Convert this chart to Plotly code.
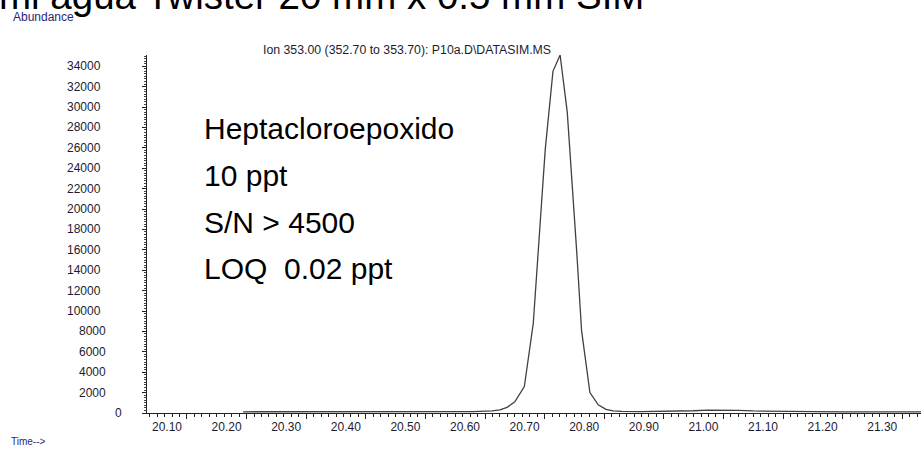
import plotly.graph_objects as go

# Extracted ion chromatogram, m/z 353 (SIM)
retention_time = [20.194, 20.25, 20.30, 20.35, 20.40, 20.45, 20.50, 20.55, 20.58, 20.60,
                  20.612, 20.625, 20.637, 20.650, 20.666, 20.681, 20.692, 20.701, 20.714,
                  20.726, 20.738, 20.746, 20.754, 20.762, 20.776, 20.790, 20.803, 20.815,
                  20.83, 20.86, 20.90, 20.95, 20.975, 21.0, 21.025, 21.05, 21.10, 21.15,
                  21.20, 21.25, 21.30, 21.332]
abundance = [120, 110, 130, 120, 115, 125, 120, 130, 140, 160,
             200, 300, 550, 1100, 2600, 8800, 18300, 25800, 33500,
             35100, 29500, 22800, 15700, 8100, 2000, 800, 350, 200,
             150, 130, 140, 220, 280, 300, 260, 200, 150, 130,
             120, 115, 110, 105]

x_ticks = [20.10, 20.20, 20.30, 20.40, 20.50, 20.60, 20.70, 20.80, 20.90,
           21.00, 21.10, 21.20, 21.30]
y_ticks = list(range(0, 34001, 2000))

header = "ml agua Twister 20 mm x 0.5 mm SIM"
ion_label = "Ion 353.00 (352.70 to 353.70): P10a.D\\DATASIM.MS"
peak_info = ["Heptacloroepoxido", "10 ppt", "S/N > 4500", "LOQ  0.02 ppt"]

FONT = "Arial, Liberation Sans, sans-serif"
INK = "#1c1c30"

fig = go.Figure()
fig.add_trace(go.Scatter(x=retention_time, y=abundance, mode="lines",
                         line=dict(color="#404040", width=1.3),
                         hoverinfo="x+y", showlegend=False))

annotations = []
# y tick labels (ChemStation-style placement)
for v in y_ticks:
    s = str(v)
    shift = {5: -44, 4: -39}.get(len(s), -23)
    annotations.append(dict(text=s, xref="paper", yref="y", x=0, y=v,
                            xanchor="right", yanchor="middle", xshift=shift,
                            showarrow=False, font=dict(family=FONT, size=12, color=INK)))

annotations += [
    dict(text=header, xref="paper", yref="paper", x=0, y=1, xanchor="left",
         yanchor="bottom", xshift=-150, yshift=36, showarrow=False,
         font=dict(family=FONT, size=38.5, color="#000000")),
    dict(text="Abundance", xref="paper", yref="paper", x=0, y=1, xanchor="left",
         yanchor="middle", xshift=-136, yshift=38, showarrow=False,
         font=dict(family=FONT, size=12, color="#2a1f78")),
    dict(text=ion_label, xref="paper", yref="paper", x=(407 - 147) / 774, y=1,
         xanchor="center", yanchor="middle", yshift=5, showarrow=False,
         font=dict(family=FONT, size=12.3, color=INK)),
    dict(text="Time-->", xref="paper", yref="paper", x=0, y=0, xanchor="left",
         yanchor="middle", xshift=-138, yshift=-28, showarrow=False,
         font=dict(family=FONT, size=10, color="#2a1f78")),
]

centers = [-73, -120, -167, -213]
for txt, dy in zip(peak_info, centers):
    annotations.append(dict(text=txt, xref="paper", yref="paper", x=0, y=1,
                            xanchor="left", yanchor="middle", xshift=55, yshift=dy,
                            showarrow=False, font=dict(family=FONT, size=30, color="#000000")))

fig.update_layout(
    width=921, height=450,
    margin=dict(l=147, r=0, t=55, b=37),
    paper_bgcolor="white", plot_bgcolor="white",
    font=dict(family=FONT, color=INK),
    annotations=annotations,
    xaxis=dict(range=[20.0329, 21.3315], tickvals=x_ticks,
               ticktext=[f"{v:.2f}" for v in x_ticks],
               showline=True, linecolor="#222222", linewidth=1,
               ticks="outside", ticklen=5, tickcolor="#222222", tickwidth=1,
               ticklabelshift=-20, ticklabelstandoff=-2,
               tickfont=dict(family=FONT, size=12, color=INK),
               minor=dict(dtick=0.0125, tick0=20.10, ticks="outside", ticklen=3,
                          tickcolor="#222222"),
               showgrid=False, zeroline=False),
    yaxis=dict(range=[0, 35100], tickvals=y_ticks, showticklabels=False,
               showline=True, linecolor="#222222", linewidth=1,
               ticks="outside", ticklen=4, tickcolor="#222222",
               minor=dict(dtick=250, tick0=0, ticks="outside", ticklen=2,
                          tickcolor="#444444"),
               showgrid=False, zeroline=False),
)

fig.write_html("out.html")
